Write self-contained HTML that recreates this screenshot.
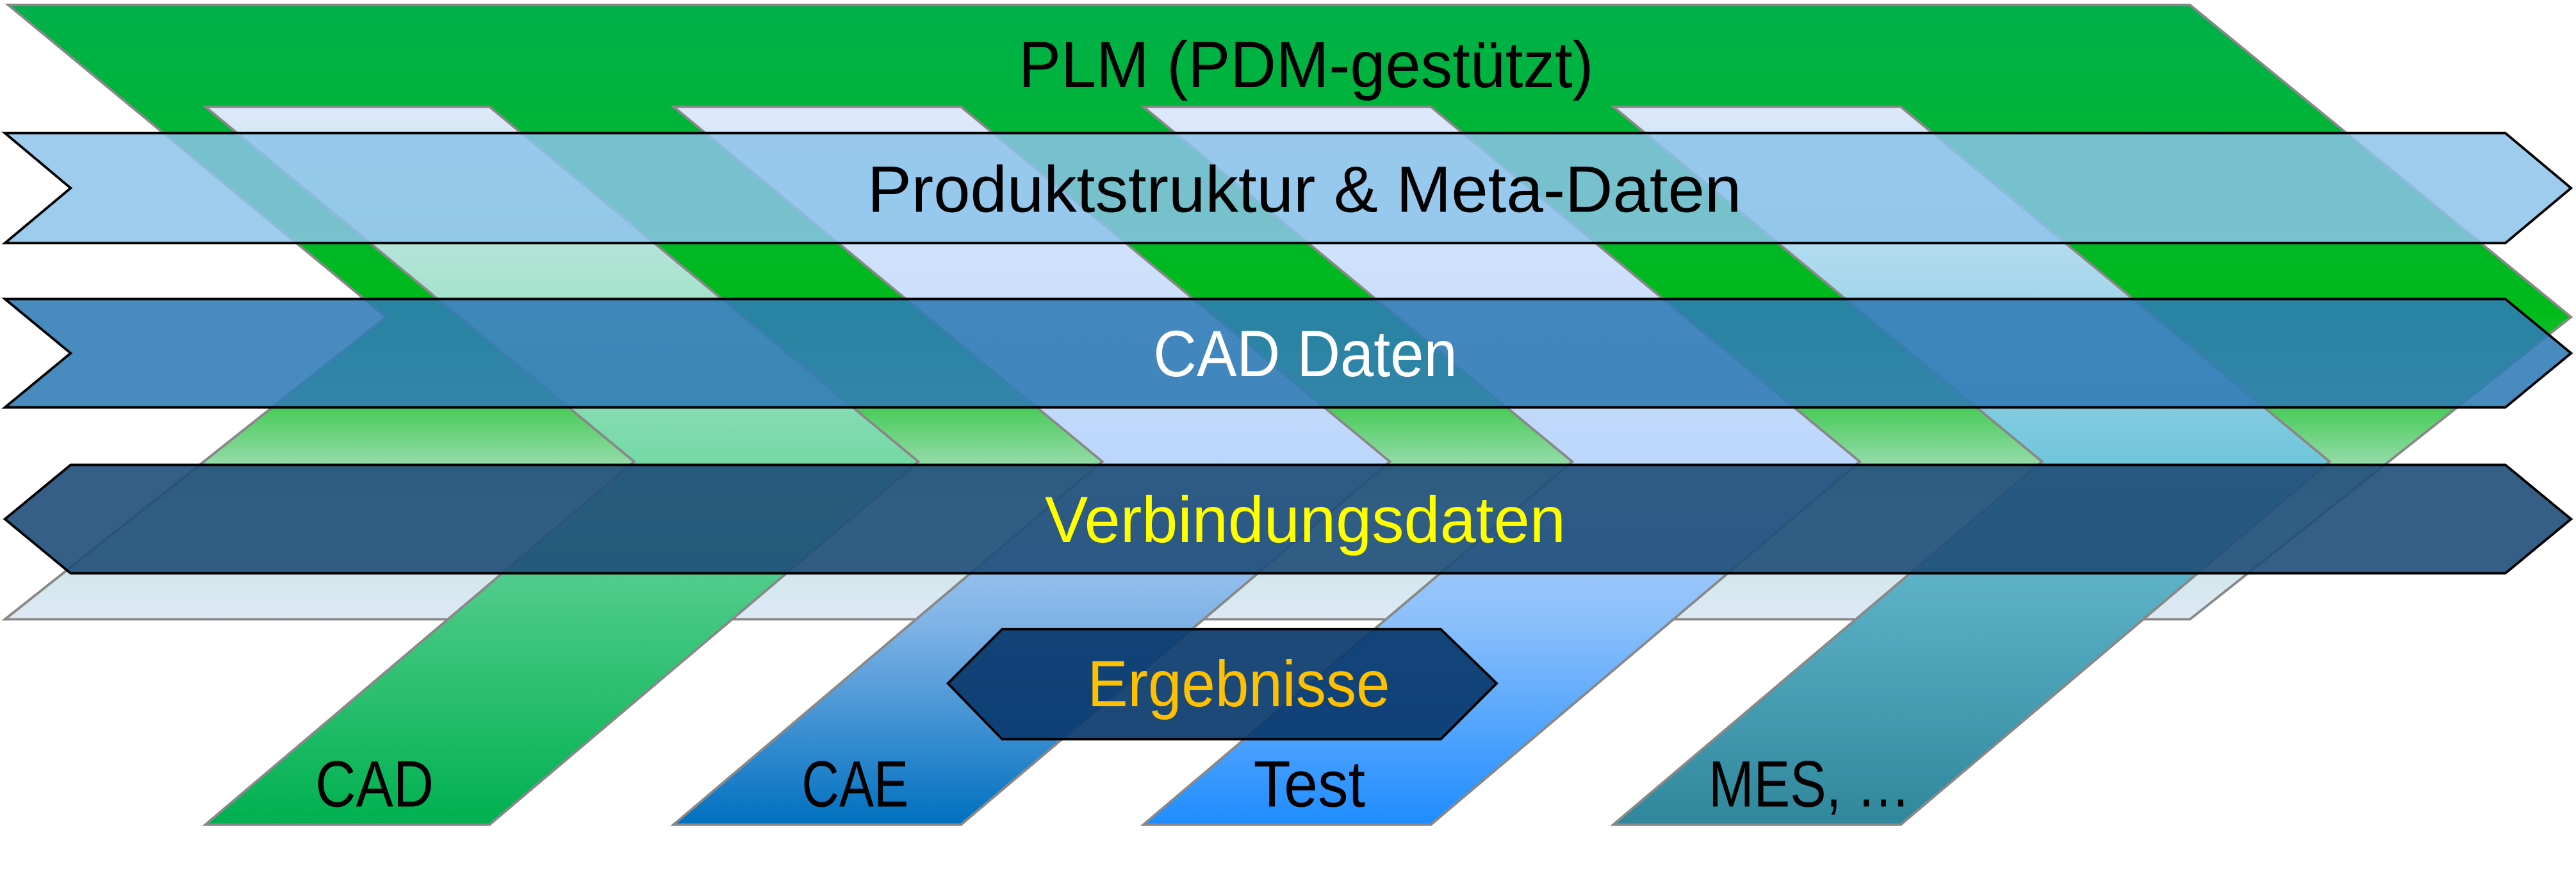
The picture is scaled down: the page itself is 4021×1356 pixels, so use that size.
<!DOCTYPE html>
<html><head><meta charset="utf-8"><style>html,body{margin:0;padding:0;background:#fff;width:4021px;height:1356px;overflow:hidden}svg{display:block}text{font-family:"Liberation Sans",sans-serif}</style></head>
<body>
<svg width="4021" height="1356" viewBox="0 0 1568 529" preserveAspectRatio="none" xmlns="http://www.w3.org/2000/svg">
<defs>
<linearGradient id="plm" x1="0" y1="3" x2="0" y2="377" gradientUnits="userSpaceOnUse">
<stop offset="0" stop-color="#00b04a"/><stop offset="0.5" stop-color="#00ba1a"/><stop offset="0.66" stop-color="#4ccc5c"/><stop offset="0.8" stop-color="#bfe4d8"/><stop offset="1" stop-color="#dde9f6"/></linearGradient>
<linearGradient id="c1" x1="0" y1="65" x2="0" y2="502" gradientUnits="userSpaceOnUse"><stop offset="0" stop-color="#dde9fb"/><stop offset="0.22" stop-color="#afe4d4"/><stop offset="0.49" stop-color="#76d9a6"/><stop offset="1" stop-color="#00b050"/></linearGradient>
<linearGradient id="c2" x1="0" y1="65" x2="0" y2="502" gradientUnits="userSpaceOnUse"><stop offset="0" stop-color="#dde9fb"/><stop offset="0.49" stop-color="#bcd7fb"/><stop offset="0.72" stop-color="#7fb3e6"/><stop offset="1" stop-color="#0070c0"/></linearGradient>
<linearGradient id="c3" x1="0" y1="65" x2="0" y2="502" gradientUnits="userSpaceOnUse"><stop offset="0" stop-color="#dde9fb"/><stop offset="0.49" stop-color="#bcd7fb"/><stop offset="0.72" stop-color="#8abffb"/><stop offset="1" stop-color="#1e8cff"/></linearGradient>
<linearGradient id="c4" x1="0" y1="65" x2="0" y2="502" gradientUnits="userSpaceOnUse"><stop offset="0" stop-color="#dde9fb"/><stop offset="0.49" stop-color="#72c6dc"/><stop offset="1" stop-color="#30879c"/></linearGradient>
</defs>
<polygon points="5,3 1333,3 1565,193 1333,377 3,377 235,193" fill="url(#plm)" stroke="#888" stroke-width="1.5"/>
<g stroke="#888" stroke-width="1.5">
<polygon points="125,65 298,65 559,281 298,502 125,502 386,281" fill="url(#c1)"/>
<polygon points="410,65 585,65 846,281 585,502 410,502 671,281" fill="url(#c2)"/>
<polygon points="696,65 871,65 1132,281 871,502 696,502 957,281" fill="url(#c3)"/>
<polygon points="982,65 1157,65 1418,281 1157,502 982,502 1243,281" fill="url(#c4)"/>
</g>
<polygon points="3,81 1525,81 1565,114.5 1525,148 3,148 43,114.5" fill="#8cc3ea" fill-opacity="0.85" stroke="#000" stroke-width="1.5"/>
<polygon points="3,182 1525,182 1565,215 1525,248 3,248 43,215" fill="#2f7bb5" fill-opacity="0.88" stroke="#000" stroke-width="1.5"/>
<polygon points="3,316 43,283 1525,283 1565,316 1525,349 43,349" fill="#1f4e79" fill-opacity="0.9" stroke="#000" stroke-width="1.5"/>
<polygon points="577,416 610,383 877,383 911,416 877,450 610,450" fill="#0a3a6e" fill-opacity="0.92" stroke="#000" stroke-width="1.5"/>
<g font-size="40">
<text x="620" y="53" textLength="350" lengthAdjust="spacingAndGlyphs" fill="#000">PLM (PDM-gestützt)</text>
<text x="528" y="129" textLength="532" lengthAdjust="spacingAndGlyphs" fill="#000">Produktstruktur &amp; Meta-Daten</text>
<text x="702" y="229" textLength="185" lengthAdjust="spacingAndGlyphs" fill="#fff">CAD Daten</text>
<text x="636" y="330" textLength="317" lengthAdjust="spacingAndGlyphs" fill="#ffff00">Verbindungsdaten</text>
<text x="662" y="430" textLength="184" lengthAdjust="spacingAndGlyphs" fill="#ffc000">Ergebnisse</text>
<text x="192" y="491" textLength="72" lengthAdjust="spacingAndGlyphs" fill="#000">CAD</text>
<text x="488" y="491" textLength="65" lengthAdjust="spacingAndGlyphs" fill="#000">CAE</text>
<text x="763" y="491" textLength="68" lengthAdjust="spacingAndGlyphs" fill="#000">Test</text>
<text x="1040" y="491" textLength="123" lengthAdjust="spacingAndGlyphs" fill="#000">MES, …</text>
</g>
</svg>
</body></html>
